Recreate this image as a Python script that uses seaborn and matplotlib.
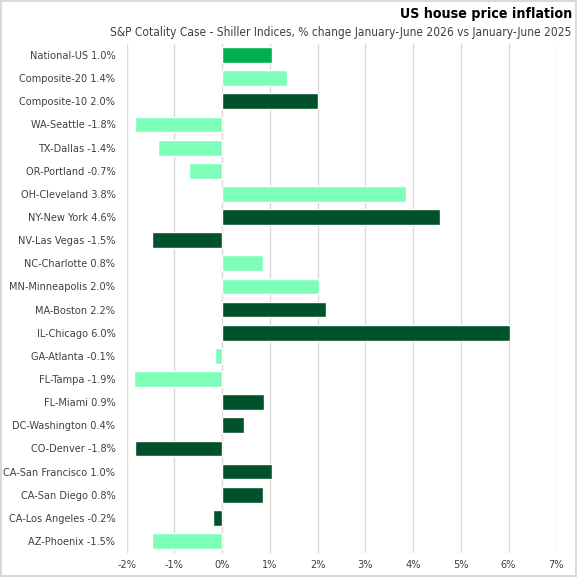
import matplotlib
matplotlib.use('Agg')
import matplotlib.pyplot as plt
from matplotlib import font_manager
import seaborn as sns
import pandas as pd

# S&P Cotality Case-Shiller, % change Jan-Jun 2026 vs Jan-Jun 2025
regions = ['National-US', 'Composite-20', 'Composite-10', 'WA-Seattle', 'TX-Dallas',
           'OR-Portland', 'OH-Cleveland', 'NY-New York', 'NV-Las Vegas', 'NC-Charlotte',
           'MN-Minneapolis', 'MA-Boston', 'IL-Chicago', 'GA-Atlanta', 'FL-Tampa',
           'FL-Miami', 'DC-Washington', 'CO-Denver', 'CA-San Francisco', 'CA-San Diego',
           'CA-Los Angeles', 'AZ-Phoenix']
changes = [1.04, 1.35, 2.0, -1.83, -1.35, -0.70, 3.85, 4.56, -1.47, 0.85,
           2.04, 2.18, 6.03, -0.14, -1.85, 0.88, 0.45, -1.83, 1.05, 0.86,
           -0.19, -1.47]
printed = ['1.0%', '1.4%', '2.0%', '-1.8%', '-1.4%', '-0.7%', '3.8%', '4.6%', '-1.5%', '0.8%',
           '2.0%', '2.2%', '6.0%', '-0.1%', '-1.9%', '0.9%', '0.4%', '-1.8%', '1.0%', '0.8%',
           '-0.2%', '-1.5%']
groups = ['national', 'light', 'dark', 'light', 'light', 'light', 'light', 'dark', 'dark', 'light',
          'light', 'dark', 'dark', 'light', 'light', 'dark', 'dark', 'dark', 'dark', 'dark',
          'dark', 'light']
xticks = [-2, -1, 0, 1, 2, 3, 4, 5, 6, 7]

colors = {'national': '#00b050', 'light': '#7dffb9', 'dark': '#00522a'}

df = pd.DataFrame({'label': [f'{r} {p}' for r, p in zip(regions, printed)],
                   'change': changes, 'group': groups})

sns.set_style('white')

# narrow font like the Excel original, if one is around
names = {f.name for f in font_manager.fontManager.ttflist}
if 'Liberation Sans Narrow' in names:
    fam, stretch, scale = 'Liberation Sans Narrow', 'normal', 1.1
elif any(f.name == 'DejaVu Sans' and f.stretch in ('condensed', 'semi-condensed')
         for f in font_manager.fontManager.ttflist):
    fam, stretch, scale = 'DejaVu Sans', 'condensed', 1.0
else:
    fam, stretch, scale = 'Liberation Sans', 'normal', 0.95
plt.rcParams['font.family'] = [fam, 'DejaVu Sans']
plt.rcParams['font.stretch'] = stretch

fig = plt.figure(figsize=(5.77, 5.77), dpi=100)
fig.patch.set_edgecolor('#d9d9d9')
fig.patch.set_linewidth(1.5)
ax = fig.add_axes([0.2194, 0.0423, 0.7447, 0.8823])

sns.barplot(data=df, x='change', y='label', hue='group', palette=colors,
            orient='h', width=0.68, legend=False, saturation=1, ax=ax, zorder=2)

ax.set_xlim(-2, 7)
ax.set_xticks(xticks)
ax.set_xticklabels([f'{t}%' for t in xticks])
ax.grid(axis='x', color='#d9d9d9', linewidth=1, zorder=0)
ax.set_axisbelow(True)
for s in ax.spines.values():
    s.set_visible(False)
ax.tick_params(axis='both', length=0, labelsize=7.8 * scale, colors='#404040')
ax.tick_params(axis='x', pad=5)
ax.tick_params(axis='y', pad=8)
ax.set_xlabel('')
ax.set_ylabel('')

fig.text(0.991, 0.975, 'US house price inflation', ha='right', va='center',
         fontsize=10.2 * scale, fontweight='bold', color='black')
fig.text(0.991, 0.943, 'S&P Cotality Case - Shiller Indices, % change January-June 2026 vs January-June 2025',
         ha='right', va='center', fontsize=8.6 * scale, color='#404040')

fig.savefig('out.png', dpi=100, edgecolor=fig.get_edgecolor())
